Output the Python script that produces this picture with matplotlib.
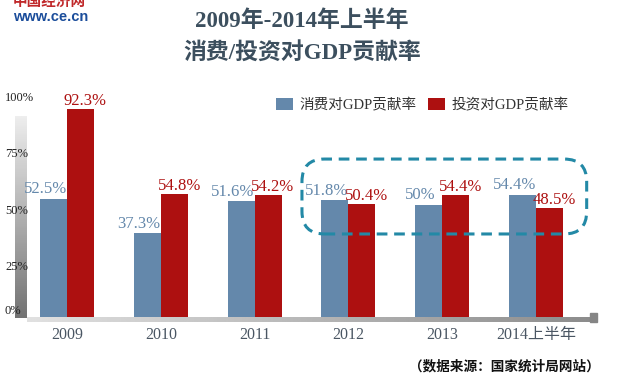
import matplotlib
matplotlib.use("Agg")
import matplotlib.pyplot as plt
import matplotlib.transforms as mtransforms
from matplotlib.patches import FancyBboxPatch, Rectangle
import numpy as np

# 数据
years = ["2009", "2010", "2011", "2012", "2013", "2014上半年"]
consume = [52.5, 37.3, 51.6, 51.8, 50, 54.4]
invest = [92.3, 54.8, 54.2, 50.4, 54.4, 48.5]
consume_labels = ["52.5%", "37.3%", "51.6%", "51.8%", "50%", "54.4%"]
invest_labels = ["92.3%", "54.8%", "54.2%", "50.4%", "54.4%", "48.5%"]
yticks = [0, 25, 50, 75, 100]
ytick_labels = ["0%", "25%", "50%", "75%", "100%"]

blue = "#6488ab"
red = "#ad1010"
serif_cjk = ["Liberation Serif", "Noto Sans CJK SC"]

W, H = 623, 379
fig = plt.figure(figsize=(W / 100, H / 100), dpi=100)

# 坐标轴位置 (像素换算)
ax = fig.add_axes([27 / W, (H - 317) / H, 570 / W, 225 / H])
x = np.arange(len(years))
w = 0.288
b1 = ax.bar(x - w / 2, consume, w, color=blue, label="消费对GDP贡献率", zorder=2)
b2 = ax.bar(x + w / 2, invest, w, color=red, label="投资对GDP贡献率", zorder=2)
ax.set_xlim(-0.426, 5.65)
ax.set_ylim(0, 100)
for s in ax.spines.values():
    s.set_visible(False)
ax.set_yticks([])
ax.set_xticks(x)
ax.set_xticklabels(years, family=serif_cjk, fontsize=11.5, color="#4a5663")
ax.tick_params(axis="x", length=0, pad=7)

# 数值标签
for i in range(len(years)):
    ax.annotate(consume_labels[i], (x[i] - w / 2, consume[i]), xytext=(-6, 1),
                textcoords="offset points", ha="center", va="bottom",
                fontsize=12, color=blue, family="Liberation Serif", zorder=4)
    ax.annotate(invest_labels[i], (x[i] + w / 2, invest[i]), xytext=(3.5, 0),
                textcoords="offset points", ha="center", va="bottom",
                fontsize=12, color=red, family="Liberation Serif", zorder=4)

# y 轴刻度文字
tr = mtransforms.blended_transform_factory(fig.transFigure, ax.transData)
for v, lab in zip(yticks, ytick_labels):
    fig.text(5 / W, v, lab, transform=tr, ha="left",
             va="bottom" if v == 0 else "top", fontsize=9,
             family="Liberation Serif", color="#222222", zorder=5)

# 灰色渐变轴
yb = fig.add_axes([15 / W, (H - 318) / H, 12 / W, 202 / H], zorder=-1)
yb.imshow(np.linspace(0.93, 0.45, 100).reshape(-1, 1), cmap="gray",
          vmin=0, vmax=1, aspect="auto")
yb.axis("off")
xb = fig.add_axes([27 / W, (H - 322) / H, 563 / W, 5 / H], zorder=-1)
xb.imshow(np.linspace(0.88, 0.55, 200).reshape(1, -1), cmap="gray",
          vmin=0, vmax=1, aspect="auto")
xb.axis("off")
fig.patches.append(Rectangle((590 / W, (H - 322) / H), 7 / W, 9 / H,
                             transform=fig.transFigure, color="#858585"))

# 虚线圆角框
box = FancyBboxPatch((2.505, 36.9), 5.54 - 2.505, 70.2 - 36.9,
                     boxstyle="round,pad=0,rounding_size=0.24",
                     mutation_aspect=41.7, fill=False, ec="#2389a6",
                     lw=2.2, ls=(0, (3.5, 2.2)), zorder=3, clip_on=False)
ax.add_patch(box)

# 图例
leg = ax.legend(handles=[b1, b2], loc="center left", ncol=2, frameon=False,
                bbox_to_anchor=(276 / W, 1 - 105 / H),
                bbox_transform=fig.transFigure, borderpad=0, borderaxespad=0,
                handlelength=1.17, handleheight=0.82, handletextpad=0.45,
                columnspacing=0.75, prop={"family": serif_cjk, "size": 10.5})
for t in leg.get_texts():
    t.set_color("#333333")

# 标题
fig.text(302 / W, 1 - 21 / H, "2009年-2014年上半年", ha="center", va="center",
         fontsize=16.5, fontweight="bold", family=serif_cjk, color="#3c4f5e")
fig.text(302 / W, 1 - 53 / H, "消费/投资对GDP贡献率", ha="center", va="center",
         fontsize=16.5, fontweight="bold", family=serif_cjk, color="#3c4f5e")

# 标志
fig.text(13 / W, 1 - 1 / H, "中国经济网", ha="left", va="center", fontsize=10.5,
         fontweight="bold", family="Noto Sans CJK SC", color="#c0282a")
fig.text(13 / W, 1 - 17 / H, "www.ce.cn", ha="left", va="center", fontsize=10.5,
         fontweight="bold", family="Liberation Sans", color="#1b4d9b")

# 数据来源
fig.text(600 / W, 1 - 366 / H, "（数据来源：国家统计局网站）", ha="right",
         va="center", fontsize=9.8, fontweight="bold",
         family="Noto Sans CJK SC", color="#111111")

fig.savefig("out.png", dpi=100)
